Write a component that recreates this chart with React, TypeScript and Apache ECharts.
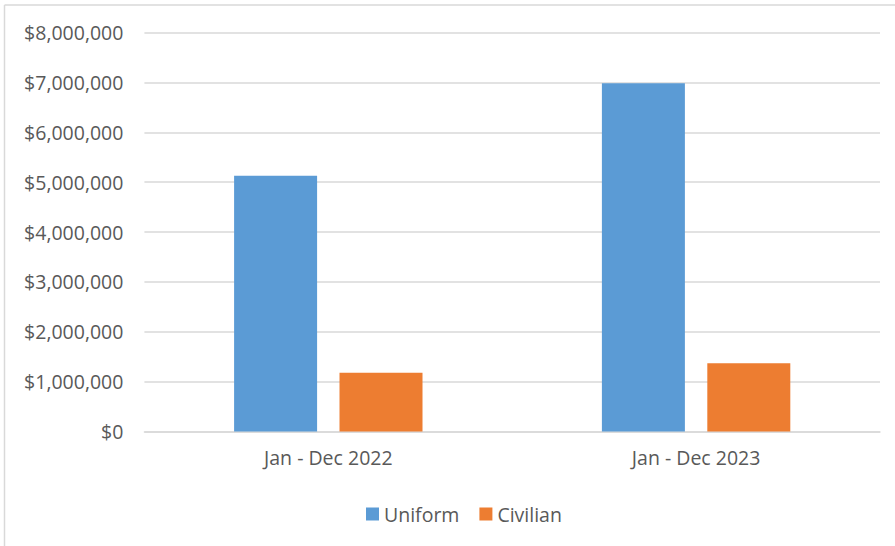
import React, { useEffect, useRef } from "react";
import * as echarts from "echarts";

const categories = ["Jan - Dec 2022", "Jan - Dec 2023"];
const uniformValues = [5130000, 6980000];
const civilianValues = [1180000, 1370000];
const seriesNames = ["Uniform", "Civilian"];

function fmt(v: number) {
  return "$" + v.toLocaleString("en-US");
}

export default function App() {
  const ref = useRef<HTMLDivElement>(null);
  useEffect(() => {
    if (!ref.current) return;
    const chart = echarts.init(ref.current, null, { renderer: "svg" });
    const font = "'Open Sans', sans-serif";
    const textColor = "#595959";
    chart.setOption({
      animation: false,
      backgroundColor: "#ffffff",
      textStyle: { fontFamily: font },
      graphic: [
        {
          type: "line",
          shape: { x1: 4.5, y1: 5, x2: 4.5, y2: 546 },
          style: { stroke: "#d9d9d9", lineWidth: 1.5 },
        },
        {
          type: "line",
          shape: { x1: 4.5, y1: 5, x2: 895, y2: 5 },
          style: { stroke: "#d9d9d9", lineWidth: 1.5 },
        },
      ],
      grid: { left: 144.4, right: 15, top: 32.5, bottom: 114.5, containLabel: false },
      legend: {
        data: seriesNames,
        left: 361,
        top: 499,
        itemWidth: 13,
        itemHeight: 13,
        itemGap: 20,
        icon: "rect",
        textStyle: { color: textColor, fontSize: 19.5, fontFamily: font },
      },
      xAxis: {
        type: "category",
        data: categories,
        axisTick: { show: false },
        axisLine: { show: true, lineStyle: { color: "#d9d9d9", width: 1.5 } },
        axisLabel: { color: textColor, fontSize: 19.5, fontFamily: font, margin: 16 },
      },
      yAxis: {
        type: "value",
        min: 0,
        max: 8000000,
        interval: 1000000,
        axisLine: { show: false },
        axisTick: { show: false },
        splitLine: { lineStyle: { color: "#d9d9d9", width: 1.5 } },
        axisLabel: {
          color: textColor,
          fontSize: 19.5,
          fontFamily: font,
          margin: 21,
          formatter: (v: number) => fmt(v),
        },
      },
      series: [
        {
          name: seriesNames[0],
          type: "bar",
          data: uniformValues,
          barWidth: 83,
          barGap: "27%",
          itemStyle: { color: "#5b9bd5" },
        },
        {
          name: seriesNames[1],
          type: "bar",
          data: civilianValues,
          barWidth: 83,
          barGap: "27%",
          itemStyle: { color: "#ed7d31" },
        },
      ],
    });
    return () => chart.dispose();
  }, []);
  return (
    <div
      ref={ref}
      style={{ position: "fixed", left: 0, top: 0, width: 895, height: 546 }}
    />
  );
}
